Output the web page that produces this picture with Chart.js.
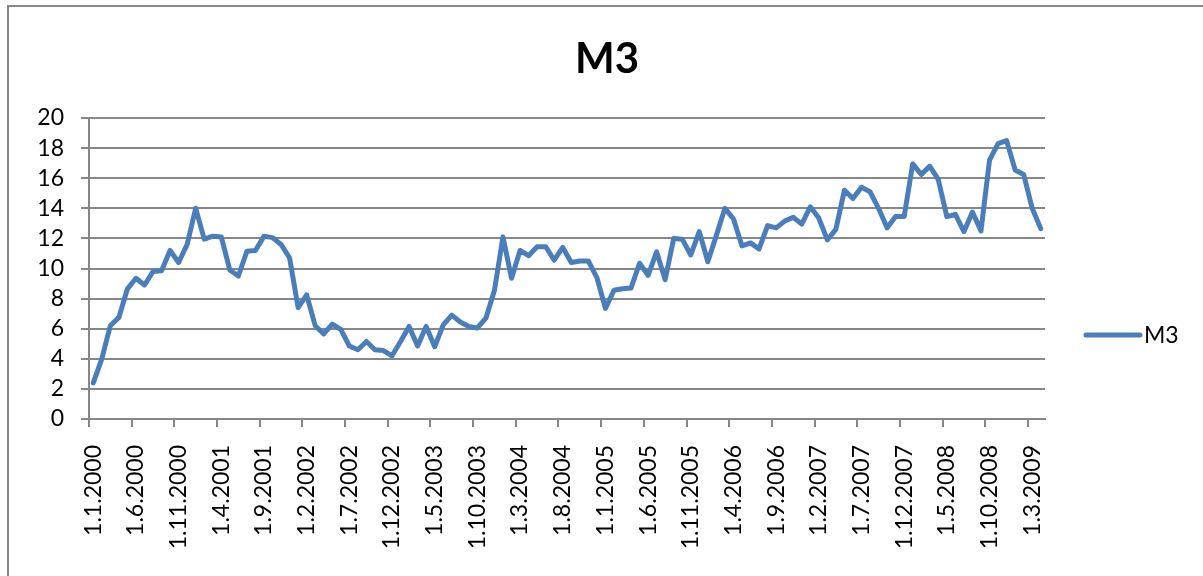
<!DOCTYPE html>
<html>
<head>
<meta charset="utf-8">
<title>M3</title>
<script src="https://cdn.jsdelivr.net/npm/chart.js@4.4.1/dist/chart.umd.min.js"></script>
<style>
  html, body { margin: 0; padding: 0; background: #fff; overflow: hidden; }
  #frame { position: absolute; left: 7px; top: 5px; width: 1300px; height: 700px; border: 2px solid #878787; }
  #wrap { position: absolute; left: 0; top: 0; width: 1203px; height: 576px; }
</style>
</head>
<body>
<div id="frame"></div>
<div id="wrap"><canvas id="chart" width="1203" height="576"></canvas></div>
<script>
// monthly M3 growth, Jan 2000 .. Apr 2009
const chartTitle = 'M3';
const seriesName = 'M3';
const startYear = 2000;
const m3Values = [
  2.4, 4.0, 6.2, 6.75, 8.65, 9.35, 8.9, 9.8, 9.85, 11.2, 10.4, 11.6,
  14.0, 11.95, 12.15, 12.1, 9.9, 9.5, 11.15, 11.2, 12.15, 12.05, 11.6, 10.7,
  7.4, 8.25, 6.2, 5.65, 6.3, 5.95, 4.85, 4.6, 5.15, 4.6, 4.55, 4.2,
  5.15, 6.15, 4.85, 6.15, 4.8, 6.25, 6.9, 6.45, 6.15, 6.05, 6.7, 8.55,
  12.1, 9.35, 11.2, 10.85, 11.45, 11.45, 10.55, 11.4, 10.4, 10.5, 10.5, 9.4,
  7.35, 8.55, 8.65, 8.7, 10.35, 9.55, 11.1, 9.25, 12.0, 11.95, 10.9, 12.45,
  10.45, 12.2, 14.0, 13.3, 11.5, 11.7, 11.3, 12.85, 12.7, 13.15, 13.4, 12.95,
  14.1, 13.35, 11.9, 12.6, 15.2, 14.65, 15.4, 15.1, 14.0, 12.7, 13.45, 13.45,
  16.95, 16.25, 16.8, 15.9, 13.45, 13.6, 12.45, 13.75, 12.5, 17.2, 18.3, 18.5,
  16.55, 16.25, 14.0, 12.65
];
const labelEvery = 5;
const yMin = 0, yMax = 20, yStep = 2;

const categories = m3Values.map((v, i) =>
  '1.' + (i % 12 + 1) + '.' + (startYear + Math.floor(i / 12)));

const lineColor = '#4A7EBB';
const gridColor = '#878787';
const fontFamily = 'Lato, "Open Sans", sans-serif';

// title + legend drawn by hand so they sit where Excel put them
const titleAndLegend = {
  id: 'titleAndLegend',
  afterDraw(chart) {
    const ctx = chart.ctx;
    const ds = chart.data.datasets[0];
    ctx.save();
    ctx.fillStyle = '#000';
    ctx.font = 'bold 42px ' + fontFamily;
    ctx.textAlign = 'center';
    ctx.textBaseline = 'alphabetic';
    ctx.fillText(chartTitle, 607, 72.5);

    ctx.strokeStyle = ds.borderColor;
    ctx.lineWidth = 5;
    ctx.lineCap = 'round';
    ctx.beginPath();
    ctx.moveTo(1086, 335);
    ctx.lineTo(1140, 335);
    ctx.stroke();

    ctx.font = '23px ' + fontFamily;
    ctx.textAlign = 'left';
    ctx.fillText(ds.label, 1144, 343);
    ctx.restore();
  }
};

new Chart(document.getElementById('chart'), {
  type: 'line',
  data: {
    labels: categories,
    datasets: [{
      label: seriesName,
      data: m3Values,
      borderColor: lineColor,
      backgroundColor: lineColor,
      borderWidth: 5,
      borderJoinStyle: 'round',
      borderCapStyle: 'round',
      pointRadius: 0,
      tension: 0
    }]
  },
  options: {
    responsive: false,
    animation: false,
    layout: { padding: { top: 118, right: 158, left: 0, bottom: 0 } },
    plugins: {
      legend: { display: false },
      title: { display: false },
      tooltip: { enabled: false }
    },
    scales: {
      x: {
        type: 'category',
        offset: true,
        afterFit: s => { s.height = 157; },
        grid: {
          offset: true,
          drawOnChartArea: false,
          tickLength: 8,
          lineWidth: 2,
          color: c => (c.index % labelEvery === 0 ? gridColor : 'rgba(0,0,0,0)')
        },
        border: { color: gridColor, width: 2 },
        ticks: {
          autoSkip: false,
          minRotation: 90,
          maxRotation: 90,
          padding: 18,
          color: '#000',
          font: { family: fontFamily, size: 23 },
          callback: (v, i) => (i % labelEvery === 0 ? categories[i] : '')
        }
      },
      y: {
        min: yMin,
        max: yMax,
        afterFit: s => { s.width = 89; },
        grid: { color: gridColor, lineWidth: 2, tickLength: 8 },
        border: { color: gridColor, width: 2 },
        ticks: {
          stepSize: yStep,
          autoSkip: false,
          padding: 17,
          color: '#000',
          font: { family: fontFamily, size: 23, lineHeight: 1 }
        }
      }
    }
  },
  plugins: [titleAndLegend]
});
</script>
</body>
</html>
